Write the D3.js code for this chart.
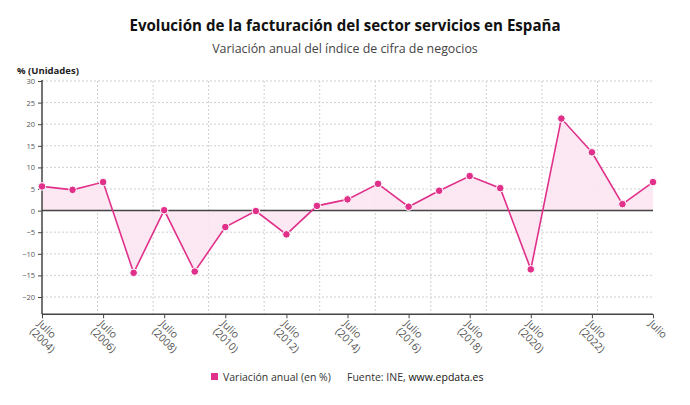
<!DOCTYPE html>
<html><head><meta charset="utf-8">
<script src="https://cdn.jsdelivr.net/npm/d3@7"></script>
<style>body{margin:0;background:#fff;} svg{display:block;font-family:"Open Sans",sans-serif;}</style>
</head><body><svg id="c" width="690" height="405"></svg>
<script>
const years = [2004,2005,2006,2007,2008,2009,2010,2011,2012,2013,2014,2015,2016,2017,2018,2019,2020,2021,2022,2023,2024];
const values = [5.6,4.8,6.6,-14.4,0.1,-14.1,-3.8,-0.1,-5.5,1.1,2.6,6.2,0.9,4.6,8.0,5.2,-13.6,21.3,13.5,1.5,6.6];
const yTicks = [30,25,20,15,10,5,0,-5,-10,-15,-20];
const xTickYears = [2004,2006,2008,2010,2012,2014,2016,2018,2020,2022,2024];
const title = "Evolución de la facturación del sector servicios en España";
const subtitle = "Variación anual del índice de cifra de negocios";
const seriesName = "Variación anual (en %)";

const pink = "#e0308a";
const svg = d3.select("#c");
const L = 42, R = 653, T = 81, B = 314.3;
const x = d3.scaleLinear().domain([2004,2024]).range([L,R]);
const y = d3.scaleLinear().domain([-24,30]).range([B,T]);

svg.append("text").attr("x",345).attr("y",31).attr("text-anchor","middle")
  .attr("font-size",15.1).attr("font-weight","bold").attr("fill","#111").text(title);
svg.append("text").attr("x",345).attr("y",53).attr("text-anchor","middle")
  .attr("font-size",12.4).attr("fill","#444").text(subtitle);
svg.append("text").attr("x",17).attr("y",74).attr("font-size",9.5).attr("font-weight","bold").attr("fill","#222").text("% (Unidades)");

// grid
const g = svg.append("g");
yTicks.forEach(t=>{
  g.append("line").attr("x1",L).attr("x2",R).attr("y1",y(t)).attr("y2",y(t))
   .attr("stroke","#d0d0d0").attr("stroke-width",1).attr("stroke-dasharray","2,2");
});
const gridX = d3.range(1,11).map(k=>2004+k*20/11);
gridX.forEach(v=>{
  g.append("line").attr("x1",x(v)).attr("x2",x(v)).attr("y1",T).attr("y2",B)
   .attr("stroke","#d0d0d0").attr("stroke-width",1).attr("stroke-dasharray","2,2");
});

// area
const data = years.map((yr,i)=>({yr, v:values[i]}));
svg.append("path").datum(data)
  .attr("d", d3.area().x(d=>x(d.yr)).y0(y(0)).y1(d=>y(d.v)))
  .attr("fill","#fce6f2").attr("opacity",0.9);

// axes
const ya = svg.append("g").attr("transform",`translate(${L},0)`)
  .call(d3.axisLeft(y).tickValues(yTicks).tickSize(4).tickPadding(3));
ya.select(".domain").remove();
ya.selectAll("line").attr("stroke","#444");
ya.selectAll("text").attr("font-size",7.5).attr("fill","#555").attr("font-family","Open Sans");
svg.append("line").attr("x1",L).attr("x2",L).attr("y1",T-1).attr("y2",B).attr("stroke","#444").attr("stroke-width",1.5);
svg.append("line").attr("x1",L).attr("x2",R).attr("y1",y(0)).attr("y2",y(0)).attr("stroke","#444").attr("stroke-width",1.5);
svg.append("line").attr("x1",L).attr("x2",R).attr("y1",B).attr("y2",B).attr("stroke","#444").attr("stroke-width",1.5);

const xa = svg.append("g").attr("transform",`translate(0,${B})`)
  .call(d3.axisBottom(x).tickValues(xTickYears).tickSize(4).tickFormat(""));
xa.select(".domain").remove();
xa.selectAll("line").attr("stroke","#444");

xTickYears.forEach((yr,i)=>{
  const t = svg.append("text").attr("transform",`translate(${x(yr)-5},${B+10}) rotate(45)`)
    .attr("font-size",10.5).attr("fill","#555");
  t.append("tspan").attr("x",0).attr("dy",0).text("Julio");
  if (i < xTickYears.length-1) t.append("tspan").attr("x",0).attr("dy",11).text(`(${yr})`);
});

// line + points
svg.append("path").datum(data)
  .attr("d", d3.line().x(d=>x(d.yr)).y(d=>y(d.v)))
  .attr("fill","none").attr("stroke",pink).attr("stroke-width",1.6);
svg.selectAll("circle.p").data(data).enter().append("circle")
  .attr("cx",d=>x(d.yr)).attr("cy",d=>y(d.v)).attr("r",3.8)
  .attr("fill",pink).attr("stroke","#fff").attr("stroke-width",1);

// legend
svg.append("rect").attr("x",211).attr("y",373).attr("width",7).attr("height",7).attr("fill",pink);
svg.append("text").attr("x",223).attr("y",381).attr("font-size",10.5).attr("fill","#333").text(seriesName);
const src = svg.append("text").attr("x",347).attr("y",381).attr("font-size",10.5).attr("fill","#333");
src.append("tspan").text("Fuente: INE, ");
src.append("tspan").attr("fill","#111").text("www.epdata.es");
</script></body></html>
